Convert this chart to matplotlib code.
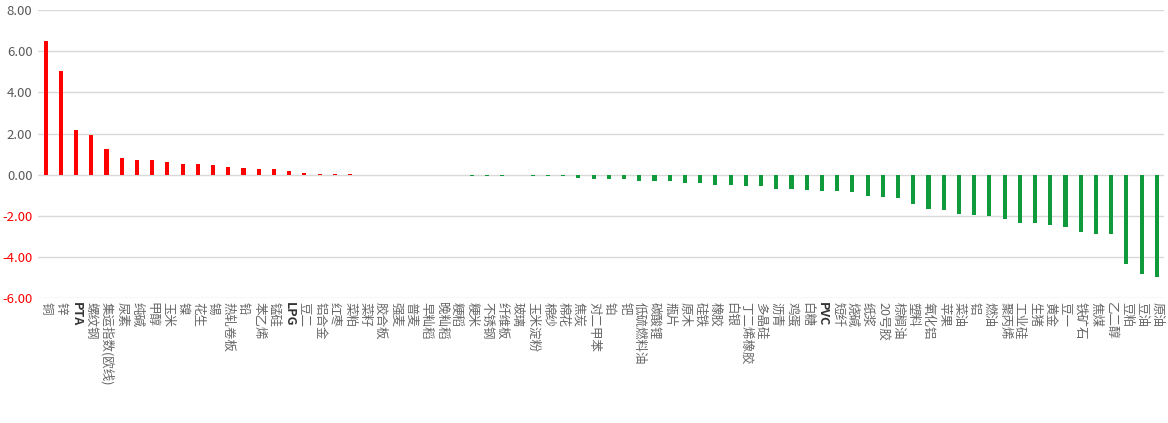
import matplotlib
matplotlib.use('Agg')
import matplotlib.pyplot as plt
import numpy as np

plt.rcParams['font.family'] = ['Noto Sans CJK SC', 'DejaVu Sans']

names = ['铜', '锌', 'PTA', '螺纹钢', '集运指数(欧线)', '尿素', '纯碱', '甲醇', '玉米', '镍',
         '花生', '锡', '热轧卷板', '铅', '苯乙烯', '锰硅', 'LPG', '豆二', '铝合金', '红枣',
         '菜粕', '菜籽', '胶合板', '强麦', '普麦', '早籼稻', '晚籼稻', '粳稻', '粳米', '不锈钢',
         '纤维板', '玻璃', '玉米淀粉', '棉纱', '棉花', '焦炭', '对二甲苯', '铂', '钯', '低硫燃料油',
         '碳酸锂', '瓶片', '原木', '硅铁', '橡胶', '白银', '丁二烯橡胶', '多晶硅', '沥青', '鸡蛋',
         '白糖', 'PVC', '短纤', '烧碱', '纸浆', '20号胶', '棕榈油', '塑料', '氧化铝', '苹果',
         '菜油', '铝', '燃油', '聚丙烯', '工业硅', '生猪', '黄金', '豆一', '铁矿石', '焦煤',
         '乙二醇', '豆粕', '豆油', '原油']

changes = [6.48, 5.03, 2.18, 1.94, 1.26, 0.82, 0.73, 0.73, 0.63, 0.53,
           0.53, 0.48, 0.39, 0.34, 0.29, 0.29, 0.19, 0.10, 0.05, 0.01,
           0.05, 0.0, 0.0, 0.0, 0.0, 0.0, 0.0, 0.0, -0.05, -0.05,
           -0.05, -0.01, -0.05, -0.05, -0.05, -0.16, -0.23, -0.23, -0.23, -0.33,
           -0.33, -0.33, -0.42, -0.42, -0.52, -0.52, -0.55, -0.55, -0.70, -0.70,
           -0.76, -0.81, -0.81, -0.86, -1.06, -1.11, -1.15, -1.45, -1.69, -1.74,
           -1.93, -1.98, -2.03, -2.18, -2.37, -2.37, -2.47, -2.57, -2.81, -2.91,
           -2.91, -4.37, -4.81, -5.00]

yticks = [-6, -4, -2, 0, 2, 4, 6, 8]

fig = plt.figure(figsize=(11.68, 4.23), dpi=100)
ax = fig.add_axes([0.0325, 0.2955, 0.9645, 0.6805])

x = np.arange(len(names))
colors = ['#ff0000' if v >= 0 else '#0f9a3c' for v in changes]
ax.bar(x, changes, width=0.27, color=colors, zorder=3)

ax.set_xlim(-0.5, len(names) - 0.5)
ax.set_ylim(-6, 8)
ax.set_yticks(yticks)
ax.set_yticklabels(['%.2f' % v for v in yticks], fontsize=9.5)
for lbl, v in zip(ax.get_yticklabels(), yticks):
    lbl.set_color('#ff0000' if v < 0 else '#595959')
ax.grid(axis='y', color='#d9d9d9', linewidth=1, zorder=0)
for s in ax.spines.values():
    s.set_visible(False)
ax.tick_params(axis='both', length=0)
ax.tick_params(axis='y', pad=4)

ax.set_xticks(x)
ax.set_xticklabels(names, rotation=-90, fontsize=9, color='#666666', va='top', ha='center')
for lbl in ax.get_xticklabels():
    if lbl.get_text() in ('PTA', 'LPG', 'PVC'):
        lbl.set_fontweight('bold')
        lbl.set_color('#333333')
ax.tick_params(axis='x', pad=3)

fig.savefig('out.png', dpi=100)
